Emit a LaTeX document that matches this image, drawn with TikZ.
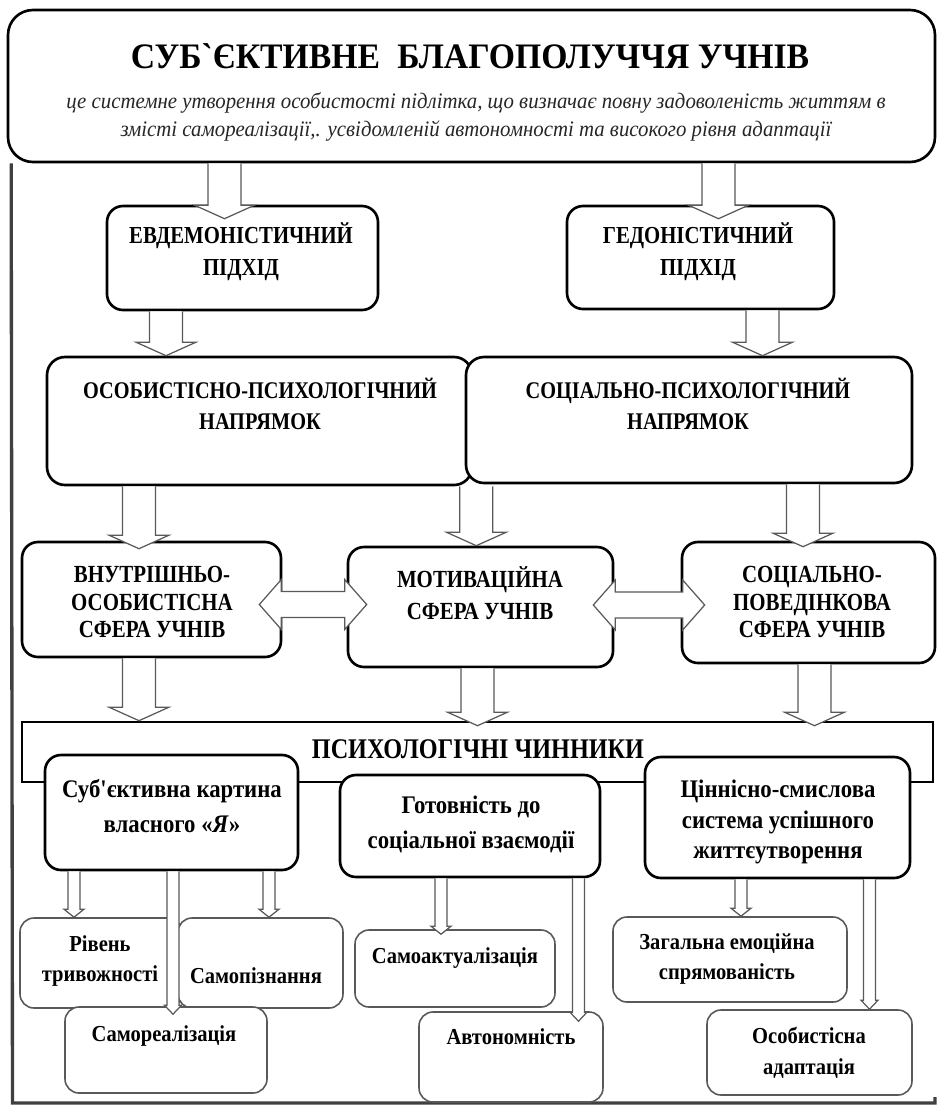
\documentclass[tikz,border=0pt]{standalone}
\usepackage{fontspec}
\setmainfont{Liberation Serif}
\newfontfamily\headfont[FakeStretch=0.94]{Liberation Serif}
\newfontfamily\capfont[FakeStretch=0.85]{Liberation Serif}
\newfontfamily\lowfont[FakeStretch=0.9]{Liberation Serif}
\usetikzlibrary{calc}

\definecolor{arrowgray}{gray}{0.35}
\definecolor{framegray}{gray}{0.25}

\tikzset{
  caps/.style 2 args={align=center, font=\capfont\bfseries\fontsize{#1}{#2}\selectfont},
  lows/.style 2 args={align=center, font=\lowfont\bfseries\fontsize{#1}{#2}\selectfont},
  vfat/.style n args={3}{draw=arrowgray, fill=white, line width=0.35pt,
    to path={let \p1=(\tikztostart), \p2=(\tikztotarget) in
      (\x1-#1,\y1) -- (\x1-#1,\y2+#3) -- (\x1-#2,\y2+#3) -- (\x1,\y2)
      -- (\x1+#2,\y2+#3) -- (\x1+#1,\y2+#3) -- (\x1+#1,\y1)}},
  hfat/.style n args={3}{draw=arrowgray, fill=white, line width=0.35pt,
    to path={let \p1=(\tikztostart), \p2=(\tikztotarget) in
      (\x1,\y1) -- (\x1+#3,\y1+#2) -- (\x1+#3,\y1+#1) -- (\x2-#3,\y1+#1)
      -- (\x2-#3,\y1+#2) -- (\x2,\y1) -- (\x2-#3,\y1-#2) -- (\x2-#3,\y1-#1)
      -- (\x1+#3,\y1-#1) -- (\x1+#3,\y1-#2) -- cycle}},
  bigarrow/.style={vfat={1.65mm}{3mm}{1.35mm}},
  dblarrow/.style={hfat={1.3mm}{2.5mm}{2.2mm}},
  smallarrow/.style={vfat={0.6mm}{1mm}{0.8mm}},
  longarrow/.style={vfat={0.6mm}{0.85mm}{0.9mm}}
}

\begin{document}
\begin{tikzpicture}[x=1mm,y=1mm]
	\tikzstyle{every node}+=[inner sep=0pt]
	\tikzstyle{mainbox}=[draw=black, fill=white, line width=0.75pt, rounded corners=1.6mm]
	\tikzstyle{subbox}=[draw=black!65, fill=white, line width=0.45pt, rounded corners=1.4mm]
	\useasboundingbox (0,0) rectangle (93.8,-110.8);
	% heading
	\node[mainbox, rounded corners=2.5mm, minimum width=92.7mm, minimum height=15.2mm] (top) at (47.15,-8.6) {};
	\node[font=\headfont\bfseries\fontsize{10.2}{11}\selectfont] (title) at (47.0,-5.6) {СУБ`ЄКТИВНЕ\hspace{0.25em} БЛАГОПОЛУЧЧЯ УЧНІВ};
	\node[align=center, text=black!85, font=\headfont\itshape\fontsize{6.3}{8.2}\selectfont] (def) at (47.6,-11.7)
		{це системне утворення особистості підлітка, що визначає повну задоволеність життям в\\
		 змісті самореалізації,. усвідомленій автономності та високого рівня адаптації};
	\draw[draw=framegray, line width=0.95pt] ([xshift=0.45mm]top.south west) -- (1.25,-110.3) -- (93.5,-110.3) -- (93.5,-109.7);
	% approaches
	\node[mainbox, minimum width=27.1mm, minimum height=10.4mm] (evd) at (24.25,-25.8) {};
	\node[caps={6.95}{9.1}] (evdtxt) at (24.1,-25.2) {ЕВДЕМОНІСТИЧНИЙ\\ПІДХІД};
	\node[mainbox, minimum width=26.7mm, minimum height=10.3mm] (hed) at (70.05,-25.75) {};
	\node[caps={6.95}{9.1}] (hedtxt) at (69.8,-25.2) {ГЕДОНІСТИЧНИЙ\\ПІДХІД};
	% directions
	\node[mainbox, rounded corners=1.8mm, minimum width=42.5mm, minimum height=12.8mm] (osob) at (25.95,-42.1) {};
	\node[caps={6.8}{8.8}] (osobtxt) at (26.0,-40.4) {ОСОБИСТІСНО-ПСИХОЛОГІЧНИЙ\\НАПРЯМОК};
	\node[mainbox, rounded corners=1.8mm, minimum width=44.6mm, minimum height=12.6mm] (socp) at (68.9,-42.0) {};
	\node[caps={6.8}{8.8}] (socptxt) at (68.8,-40.4) {СОЦІАЛЬНО-ПСИХОЛОГІЧНИЙ\\НАПРЯМОК};
	% spheres
	\node[mainbox, minimum width=25.9mm, minimum height=11.5mm] (vnut) at (15.15,-59.95) {};
	\node[caps={7}{7.8}] (vnuttxt) at (15.2,-60.2) {ВНУТРІШНЬО-\\ОСОБИСТІСНА\\СФЕРА УЧНІВ};
	\node[mainbox, minimum width=26.5mm, minimum height=12.0mm] (mot) at (48.05,-60.7) {};
	\node[caps={7}{9}] (mottxt) at (48.0,-59.3) {МОТИВАЦІЙНА\\СФЕРА УЧНІВ};
	\node[mainbox, minimum width=25.3mm, minimum height=12.1mm] (socb) at (80.85,-60.25) {};
	\node[caps={7}{7.8}] (socbtxt) at (81.2,-60.2) {СОЦІАЛЬНО-\\ПОВЕДІНКОВА\\СФЕРА УЧНІВ};
	% factors
	\node[draw=black, fill=white, line width=0.75pt, minimum width=91.1mm, minimum height=6.0mm] (psy) at (47.75,-75.2) {};
	\node[caps={8.1}{9}] (psytxt) at (47.8,-74.9) {ПСИХОЛОГІЧНІ ЧИННИКИ};
	\node[mainbox, minimum width=25.3mm, minimum height=11.5mm] (kart) at (17.15,-81.25) {};
	\node[lows={7.2}{10}] (karttxt) at (17.2,-80.6) {Суб'єктивна картина\\власного «\textit{Я}»};
	\node[mainbox, minimum width=26.0mm, minimum height=10.2mm] (got) at (47.0,-82.6) {};
	\node[lows={7.2}{10}] (gottxt) at (47.1,-82.4) {Готовність до\\соціальної взаємодії};
	\node[mainbox, minimum width=26.5mm, minimum height=12.1mm] (cin) at (77.75,-81.75) {};
	\node[lows={7.2}{8.8}] (cintxt) at (77.8,-82.2) {Ціннісно-смислова\\система успішного\\життєутворення};
	% components
	\node[subbox, minimum width=16.2mm, minimum height=9.0mm] (riv) at (10.1,-96.3) {};
	\node[lows={6.5}{8.8}] (rivtxt) at (10.0,-96.1) {Рівень\\тривожності};
	\node[subbox, minimum width=16.5mm, minimum height=9.0mm] (samp) at (26.05,-96.3) {};
	\node[lows={6.5}{8.8}] (samptxt) at (25.6,-97.6) {Самопізнання};
	\node[subbox, minimum width=20.2mm, minimum height=8.6mm] (samr) at (16.6,-105.0) {};
	\node[lows={6.5}{8.8}] (samrtxt) at (16.4,-103.6) {Самореалізація};
	\node[subbox, minimum width=20.0mm, minimum height=7.7mm] (samak) at (45.5,-96.85) {};
	\node[lows={6.5}{8.8}] (samaktxt) at (45.5,-95.8) {Самоактуалізація};
	\node[subbox, minimum width=18.4mm, minimum height=9.0mm] (avt) at (51.1,-105.7) {};
	\node[lows={6.5}{8.8}] (avttxt) at (51.1,-103.7) {Автономність};
	\node[subbox, minimum width=23.4mm, minimum height=8.5mm] (zag) at (73.0,-95.95) {};
	\node[lows={6.5}{8.8}] (zagtxt) at (72.7,-95.9) {Загальна емоційна\\спрямованість};
	\node[subbox, minimum width=20.5mm, minimum height=8.5mm] (osad) at (80.95,-105.25) {};
	\node[lows={6.5}{8.8}] (osadtxt) at (80.9,-105.3) {Особистісна\\адаптація};
	% arrows
	\draw[bigarrow] ([xshift=-24.7mm]top.south) to ([yshift=-1.4mm]evd.north);
	\draw[bigarrow] ([xshift=24.7mm]top.south) to ([yshift=-1.4mm]hed.north);
	\draw[bigarrow] ([xshift=-7.65mm]evd.south) to (osob.north);
	\draw[bigarrow] ([xshift=6.2mm]hed.south) to (socp.north);
	\draw[bigarrow] ([xshift=-12.05mm]osob.south) to ([yshift=-0.8mm]vnut.north);
	\draw[bigarrow] ([xshift=0.3mm]osob.south east) to (mot.north);
	\draw[bigarrow] ([xshift=11.4mm]socp.south) to ([yshift=-0.6mm]socb.north);
	\draw[bigarrow] ([xshift=-1.25mm]vnut.south) to (psy.north);
	\draw[bigarrow] ([xshift=-0.3mm]mot.south) to ([yshift=-0.5mm]psy.north);
	\draw[bigarrow] ([xshift=0.6mm]socb.south) to ([yshift=-0.5mm]psy.north);
	\draw[dblarrow] ([shift={(-2.3mm,-0.5mm)}]vnut.east) to ([xshift=2mm]mot.west);
	\draw[dblarrow] ([shift={(-2.1mm,0.2mm)}]mot.east) to ([xshift=2.4mm]socb.west);
	\draw[smallarrow] ([xshift=-9.75mm]kart.south) to (riv.north);
	\draw[smallarrow] ([xshift=9.75mm]kart.south) to (samp.north);
	\draw[longarrow] ([xshift=0.15mm]kart.south) to ([yshift=-0.8mm]samr.north);
	\draw[smallarrow] ([xshift=-2.9mm]got.south) to ([yshift=-0.5mm]samak.north);
	\draw[longarrow] ([xshift=10.85mm]got.south) to ([yshift=-1mm]avt.north);
	\draw[smallarrow] ([xshift=-3.65mm]cin.south) to (zag.north);
	\draw[longarrow] ([xshift=9.2mm]cin.south) to (osad.north);
\end{tikzpicture}
\end{document}
